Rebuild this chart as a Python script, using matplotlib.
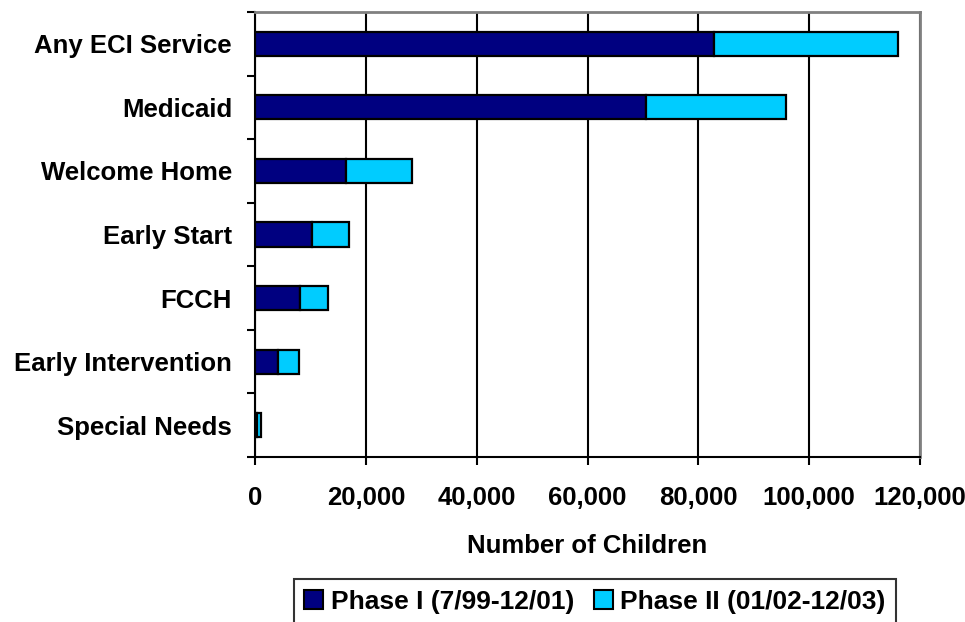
import matplotlib
matplotlib.use("Agg")
import matplotlib.pyplot as plt
import numpy as np
from matplotlib.ticker import FuncFormatter, FixedLocator
from matplotlib.patches import Patch

categories = ["Any ECI Service", "Medicaid", "Welcome Home", "Early Start",
              "FCCH", "Early Intervention", "Special Needs"]
phase1 = [82900, 70600, 16400, 10300, 8100, 4100, 300]
phase2 = [33200, 25300, 12000, 6700, 5100, 3900, 700]
series_labels = ["Phase I (7/99-12/01)", "Phase II (01/02-12/03)"]
xticks = [0, 20000, 40000, 60000, 80000, 100000, 120000]

plt.rcParams['font.family'] = ['Liberation Sans', 'DejaVu Sans']
plt.rcParams['font.weight'] = 'bold'

FS = 18.5
fig = plt.figure(figsize=(9.65, 6.22), dpi=100)
ax = fig.add_axes([255/965, 1-457/622, (920-255)/965, (457-12)/622])

y = np.arange(len(categories))
c1 = '#000080'
c2 = '#00CCFF'
h = 0.38
ax.barh(y, phase1, height=h, color=c1, edgecolor='black', linewidth=1.6, zorder=3)
ax.barh(y, phase2, left=phase1, height=h, color=c2, edgecolor='black', linewidth=1.6, zorder=3)

ax.set_ylim(len(categories)-0.5, -0.5)
ax.set_xlim(0, 120000)
ax.set_yticks(y)
ax.set_yticklabels(categories, fontsize=FS, fontweight='bold')
ax.tick_params(axis='y', which='major', length=0, pad=16.5)
ax.yaxis.set_minor_locator(FixedLocator(np.arange(-0.5, len(categories), 1.0)))
ax.tick_params(axis='y', which='minor', length=6, width=1.5, direction='out')

ax.set_xticks(xticks)
ax.xaxis.set_major_formatter(FuncFormatter(lambda v, p: f"{int(v):,}"))
ax.tick_params(axis='x', length=6, width=1.5, direction='out', labelsize=FS, pad=15)
for lab in ax.get_xticklabels():
    lab.set_fontweight('bold')

ax.grid(axis='x', color='black', linewidth=1.5, zorder=0)
ax.set_axisbelow(True)

for s in ['top', 'right']:
    ax.spines[s].set_color('#808080')
    ax.spines[s].set_linewidth(2)
for s in ['left', 'bottom']:
    ax.spines[s].set_color('black')
    ax.spines[s].set_linewidth(1.5)

ax.set_xlabel("Number of Children", fontsize=FS, fontweight='bold', labelpad=17)

handles = [Patch(facecolor=c1, edgecolor='black', linewidth=1.5),
           Patch(facecolor=c2, edgecolor='black', linewidth=1.5)]
leg = fig.legend(handles, series_labels, loc='center', bbox_to_anchor=(595/965, 1-602/622),
                 ncol=2, frameon=True, fancybox=False, edgecolor='black',
                 handlelength=0.72, handleheight=0.72, handletextpad=0.28, columnspacing=0.75,
                 borderpad=0.4, borderaxespad=0, prop={'weight': 'bold', 'size': 19})
leg.get_frame().set_linewidth(1.5)

fig.savefig("out.png", dpi=100)
